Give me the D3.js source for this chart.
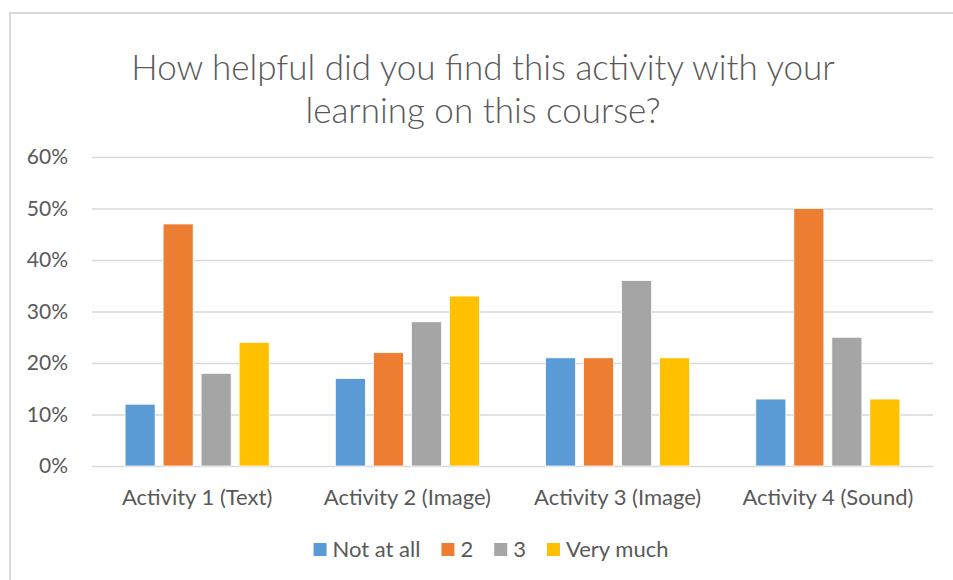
<!DOCTYPE html>
<html>
<head>
<meta charset="utf-8">
<script src="https://cdn.jsdelivr.net/npm/d3@7"></script>
<style>
  html, body { margin: 0; padding: 0; background: #fff; }
  svg { display: block; font-family: Lato, "Open Sans", sans-serif; }
</style>
</head>
<body>
<svg id="chart" width="953" height="580"></svg>
<script>
const titleLines = ["How helpful did you find this activity with your", "learning on this course?"];
const categories = ["Activity 1 (Text)", "Activity 2 (Image)", "Activity 3 (Image)", "Activity 4 (Sound)"];
const seriesNames = ["Not at all", "2", "3", "Very much"];
const notAtAll = [12, 17, 21, 13];
const two = [47, 22, 21, 50];
const three = [18, 28, 36, 25];
const veryMuch = [24, 33, 21, 13];
const yTicks = [0, 10, 20, 30, 40, 50, 60];
const colors = ["#5B9BD5", "#ED7D31", "#A5A5A5", "#FFC000"];

const seriesValues = [notAtAll, two, three, veryMuch];
const table = categories.map((c, i) => ({
  category: c,
  values: seriesNames.map((s, j) => ({ series: s, value: seriesValues[j][i] }))
}));

const svg = d3.select("#chart");
const textColor = "#595959";

// chart area border
svg.append("rect")
  .attr("x", 10).attr("y", 13)
  .attr("width", 960).attr("height", 600)
  .attr("fill", "#fff")
  .attr("stroke", "#d9d9d9").attr("stroke-width", 2);

const plot = { left: 92, right: 933, top: 157, bottom: 466 };

const x0 = d3.scaleBand().domain(categories).range([plot.left, plot.right]).padding(0);
const x1 = d3.scaleBand().domain(seriesNames).range([0, x0.bandwidth()])
  .paddingInner(0.21).paddingOuter(0.87);
const y = d3.scaleLinear().domain([0, 60]).range([plot.bottom, plot.top]);
const color = d3.scaleOrdinal().domain(seriesNames).range(colors);

// title
svg.append("text")
  .attr("x", 483).attr("y", 80)
  .attr("text-anchor", "middle")
  .attr("fill", textColor)
  .style("font-size", "35px").style("font-weight", 300)
  .selectAll("tspan").data(titleLines).join("tspan")
  .attr("x", 483).attr("dy", (d, i) => i === 0 ? 0 : 43)
  .text(d => d);

// y axis with gridlines
const yAxis = svg.append("g")
  .attr("transform", `translate(${plot.left},0)`)
  .call(d3.axisLeft(y).tickValues(yTicks).tickFormat(d => d + "%")
    .tickSize(-(plot.right - plot.left)).tickPadding(24));
yAxis.select(".domain").remove();
yAxis.selectAll(".tick line").attr("stroke", "#d9d9d9").attr("stroke-width", 1.5);
yAxis.selectAll(".tick text").attr("fill", textColor)
  .style("font-size", "21px").style("font-family", "Lato, sans-serif");

// bars
const groups = svg.append("g").selectAll("g").data(table).join("g")
  .attr("transform", d => `translate(${x0(d.category)},0)`);
groups.selectAll("rect").data(d => d.values).join("rect")
  .attr("x", d => x1(d.series))
  .attr("width", x1.bandwidth())
  .attr("y", d => y(d.value))
  .attr("height", d => y(0) - y(d.value))
  .attr("fill", d => color(d.series))
  .attr("stroke", "#fff").attr("stroke-width", 0.75);

// x axis
const xAxis = svg.append("g")
  .attr("transform", `translate(0,${plot.bottom})`)
  .call(d3.axisBottom(x0).tickSize(0).tickPadding(23));
xAxis.select(".domain").remove();
xAxis.selectAll(".tick text").attr("fill", textColor)
  .style("font-size", "22px").style("font-family", "Lato, sans-serif");

// legend
const legend = svg.append("g");
const items = legend.selectAll("g").data(seriesNames).join("g");
items.append("rect").attr("width", 13).attr("height", 13).attr("y", -13 + 6.5)
  .attr("fill", d => color(d));
items.append("text").attr("x", 19).attr("y", 0).attr("dy", "0.35em")
  .attr("fill", textColor).style("font-size", "22px")
  .text(d => d);
const widths = [];
items.each(function () {
  const w = this.querySelector("text").getComputedTextLength();
  widths.push(19 + w);
});
const totalW = d3.sum(widths) + 21 * (widths.length - 1);
let cx = 491 - totalW / 2;
items.attr("transform", (d, i) => {
  const t = `translate(${cx},549.5)`;
  cx += widths[i] + 21;
  return t;
});
</script>
</body>
</html>
